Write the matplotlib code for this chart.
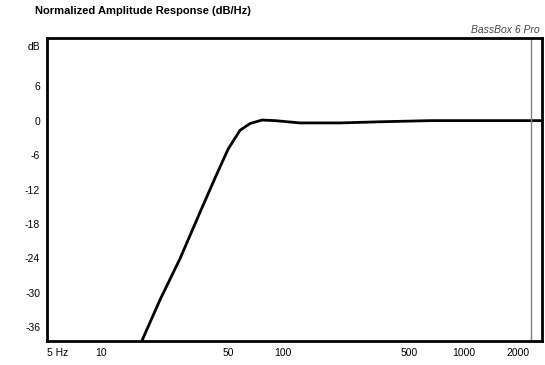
import matplotlib.pyplot as plt

# response curve
freq = [16.7, 21.0, 27.2, 35.0, 42.4, 50.0, 58.2, 66.2, 77.1, 91.0, 125.0, 208.0, 346.0, 653.0, 2715.0]
db = [-38.4, -31.3, -24.0, -16.0, -10.0, -5.0, -1.7, -0.5, 0.1, 0.0, -0.4, -0.4, -0.2, 0.0, 0.0]

x_ticks = [5, 10, 50, 100, 500, 1000, 2000]
x_labels = ["5 Hz", "10", "50", "100", "500", "1000", "2000"]
y_ticks = [6, 0, -6, -12, -18, -24, -30, -36]
marker_freq = 2360

font = ["Liberation Sans", "DejaVu Sans"]

fig = plt.figure(figsize=(5.45, 3.65), dpi=100)
ax = fig.add_axes([47 / 545, 24 / 365, 495 / 545, 303 / 365])

ax.plot(freq, db, color="black", lw=2, solid_capstyle="butt")
ax.axvline(marker_freq, color="#808080", lw=1)

ax.set_xscale("log")
ax.set_xlim(5, 2715)
ax.set_ylim(-38.4, 14.4)

ax.set_xticks(x_ticks)
ax.set_xticklabels(x_labels, family=font, fontsize=7.5)
ax.set_xticks([], minor=True)
ax.set_yticks(y_ticks)
ax.set_yticklabels([str(v) for v in y_ticks], family=font, fontsize=7.5)
ax.tick_params(length=0, pad=5)
ax.get_xticklabels()[0].set_horizontalalignment("left")

for s in ax.spines.values():
    s.set_linewidth(2)

ax.text(-7 / 495, 1 - 9 / 303, "dB", transform=ax.transAxes, ha="right", va="center",
        family=font, fontsize=7.5)

fig.text(35 / 545, 1 - 11 / 365, "Normalized Amplitude Response (dB/Hz)", ha="left", va="center",
         family=font, fontsize=8, fontweight="bold")
fig.text(540 / 545, 1 - 30 / 365, "BassBox 6 Pro", ha="right", va="center",
         family=font, fontsize=7.5, style="italic", color="#444444")

fig.savefig("out.png", dpi=100)
